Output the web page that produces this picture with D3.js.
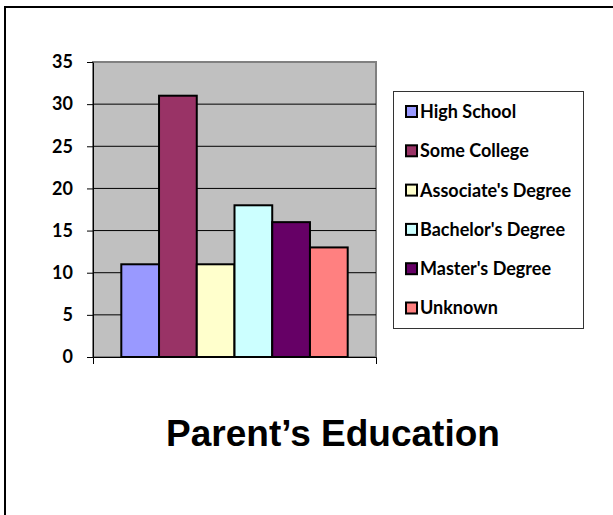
<!DOCTYPE html>
<html>
<head>
<meta charset="utf-8">
<script src="https://cdn.jsdelivr.net/npm/d3@7"></script>
<style>
  body { margin: 0; background: #fff; }
  text { font-family: Lato, "Open Sans", sans-serif; font-weight: bold; }
</style>
</head>
<body>
<div id="chart"></div>
<script>
// data
var series   = ["High School", "Some College", "Associate's Degree", "Bachelor's Degree", "Master's Degree", "Unknown"];
var values   = [11, 31, 11, 18, 16, 13];
var colors   = ["#9999FF", "#993366", "#FFFFCC", "#CCFFFF", "#660066", "#FF8080"];
var yTicks   = [0, 5, 10, 15, 20, 25, 30, 35];
var title    = "Parent\u2019s Education";

const chart_width = 613, chart_height = 515;
const plot = { left: 93, right: 376, top: 62, bottom: 357 };

var svg = d3.select("#chart")
	.append("svg")
	.attr("width", chart_width)
	.attr("height", chart_height);

// outer frame (right and bottom edges run off the picture)
svg.append("rect")
	.attr("x", 5).attr("y", 7)
	.attr("width", 700).attr("height", 600)
	.attr("fill", "#fff")
	.attr("stroke", "#000")
	.attr("stroke-width", 2);

// scales
const y_scale = d3.scaleLinear()
	.domain([0, 35])
	.range([plot.bottom, plot.top]);

const x_scale = d3.scaleBand()
	.domain(series)
	.range([plot.left, plot.right])
	.paddingInner(0)
	.paddingOuter(0.75);	// excel gap width 150%

// plot area
svg.append("rect")
	.attr("x", plot.left).attr("y", plot.top)
	.attr("width", plot.right - plot.left)
	.attr("height", plot.bottom - plot.top)
	.attr("fill", "#C0C0C0")
	.attr("stroke", "#808080")
	.attr("stroke-width", 2);

// gridlines
svg.selectAll(".grid")
	.data(yTicks.filter(d => d > 0 && d < 35))
	.enter()
	.append("line")
	.attr("x1", plot.left).attr("x2", plot.right)
	.attr("y1", d => y_scale(d)).attr("y2", d => y_scale(d))
	.attr("stroke", "#000")
	.attr("stroke-width", 1);

// bars
svg.selectAll(".bar")
	.data(values)
	.enter()
	.append("rect")
	.attr("x", (d, i) => x_scale(series[i]))
	.attr("y", d => y_scale(d))
	.attr("width", x_scale.bandwidth())
	.attr("height", d => plot.bottom - y_scale(d))
	.attr("fill", (d, i) => colors[i])
	.attr("stroke", "#000")
	.attr("stroke-width", 2);

// y axis
var yAxis = svg.append("g")
	.attr("transform", "translate(" + plot.left + ",0)")
	.call(d3.axisLeft(y_scale).tickValues(yTicks).tickSize(6).tickSizeOuter(0).tickPadding(14));
yAxis.selectAll("path, line").attr("stroke", "#000");
yAxis.selectAll("text")
	.attr("fill", "#000")
	.style("font-size", "18px");

// x axis: one category, ticks only at both ends
var x_cat = d3.scaleBand().domain([""]).range([plot.left, plot.right]);
var xAxis = svg.append("g")
	.attr("transform", "translate(0," + plot.bottom + ")")
	.call(d3.axisBottom(x_cat).tickSize(0).tickSizeOuter(7).tickFormat(""));
xAxis.selectAll("path").attr("stroke", "#000");

// legend
const legend_y = d3.scalePoint().domain(series).range([111.5, 308]);
svg.append("rect")
	.attr("x", 393.5).attr("y", 91.5)
	.attr("width", 190).attr("height", 237)
	.attr("fill", "#fff")
	.attr("stroke", "#333")
	.attr("stroke-width", 1);

var items = svg.selectAll(".legend")
	.data(series)
	.enter()
	.append("g")
	.attr("transform", d => "translate(0," + legend_y(d) + ")");

items.append("rect")
	.attr("x", 406).attr("y", -5.5)
	.attr("width", 11).attr("height", 11)
	.attr("fill", (d, i) => colors[i])
	.attr("stroke", "#000")
	.attr("stroke-width", 2);

items.append("text")
	.attr("x", 420)
	.attr("dy", "0.36em")
	.style("font-size", "18px")
	.text(d => d);

// title
svg.append("text")
	.attr("x", 333).attr("y", 446)
	.attr("text-anchor", "middle")
	.style("font-family", "'Liberation Sans', Arial, sans-serif")
	.style("font-size", "37px")
	.text(title);
</script>
</body>
</html>
